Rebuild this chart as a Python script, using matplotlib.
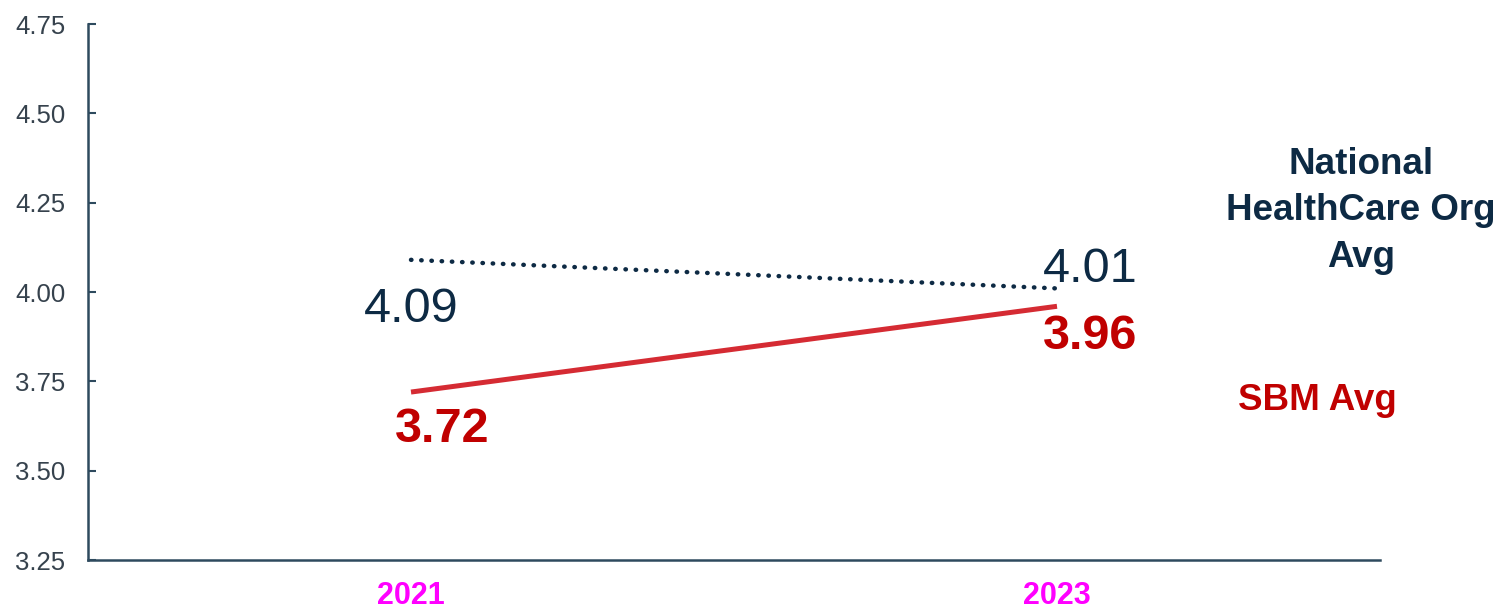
import matplotlib.pyplot as plt

plt.rcParams['font.family'] = ['Liberation Sans', 'DejaVu Sans']

years = ["2021", "2023"]
national_avg = [4.09, 4.01]
sbm_avg = [3.72, 3.96]
yticks = [3.25, 3.50, 3.75, 4.00, 4.25, 4.50, 4.75]

navy = "#0d2a44"
red_line = "#d52b33"
red_text = "#c00000"

fig = plt.figure(figsize=(15.08, 6.10), dpi=100)
ax = fig.add_axes([88 / 1508, 50 / 610, (1380 - 88) / 1508, (560 - 24) / 610])

x = list(range(len(years)))
ax.plot(x, national_avg, color=navy, lw=3.2, dashes=(0.1, 2.2), dash_capstyle="round")
ax.plot(x, sbm_avg, color=red_line, lw=3.6, solid_capstyle="butt")

ax.set_xlim(-0.5, 1.5)
ax.set_ylim(3.25, 4.75)
ax.set_yticks(yticks)
ax.set_yticklabels([f"{v:.2f}" for v in yticks], fontsize=18.5, color="#36424d")
ax.set_xticks(x)
ax.set_xticklabels(years, fontsize=22, fontweight="bold", color="#ff00ff")
ax.tick_params(axis="x", length=0, pad=15)
ax.tick_params(axis="y", direction="in", length=6, width=1.5, color="#2e4a5e", pad=52.5)
for lbl in ax.get_yticklabels():
    lbl.set_horizontalalignment("left")

for s in ["top", "right"]:
    ax.spines[s].set_visible(False)
for s in ["left", "bottom"]:
    ax.spines[s].set_color("#2e4a5e")
    ax.spines[s].set_linewidth(1.8)

# value labels
ax.annotate(f"{national_avg[0]:.2f}", (x[0], national_avg[0]), xytext=(0, -50), textcoords="offset pixels",
            ha="center", va="center", fontsize=35, color=navy)
ax.annotate(f"{national_avg[1]:.2f}", (x[1], national_avg[1]), xytext=(33, 19), textcoords="offset pixels",
            ha="center", va="center", fontsize=35, color=navy)
ax.annotate(f"{sbm_avg[0]:.2f}", (x[0], sbm_avg[0]), xytext=(31, -37), textcoords="offset pixels",
            ha="center", va="center", fontsize=35, fontweight="bold", color=red_text)
ax.annotate(f"{sbm_avg[1]:.2f}", (x[1], sbm_avg[1]), xytext=(33, -30), textcoords="offset pixels",
            ha="center", va="center", fontsize=35, fontweight="bold", color=red_text)

# series names
fig.text(1361 / 1508, 1 - 211 / 610, "National\nHealthCare Org\nAvg", ha="center", va="center",
         fontsize=26.5, fontweight="bold", color=navy, linespacing=1.42)
fig.text(1317 / 1508, 1 - 400 / 610, "SBM Avg", ha="center", va="center",
         fontsize=26.5, fontweight="bold", color=red_text)

plt.savefig("out.png", dpi=100)
